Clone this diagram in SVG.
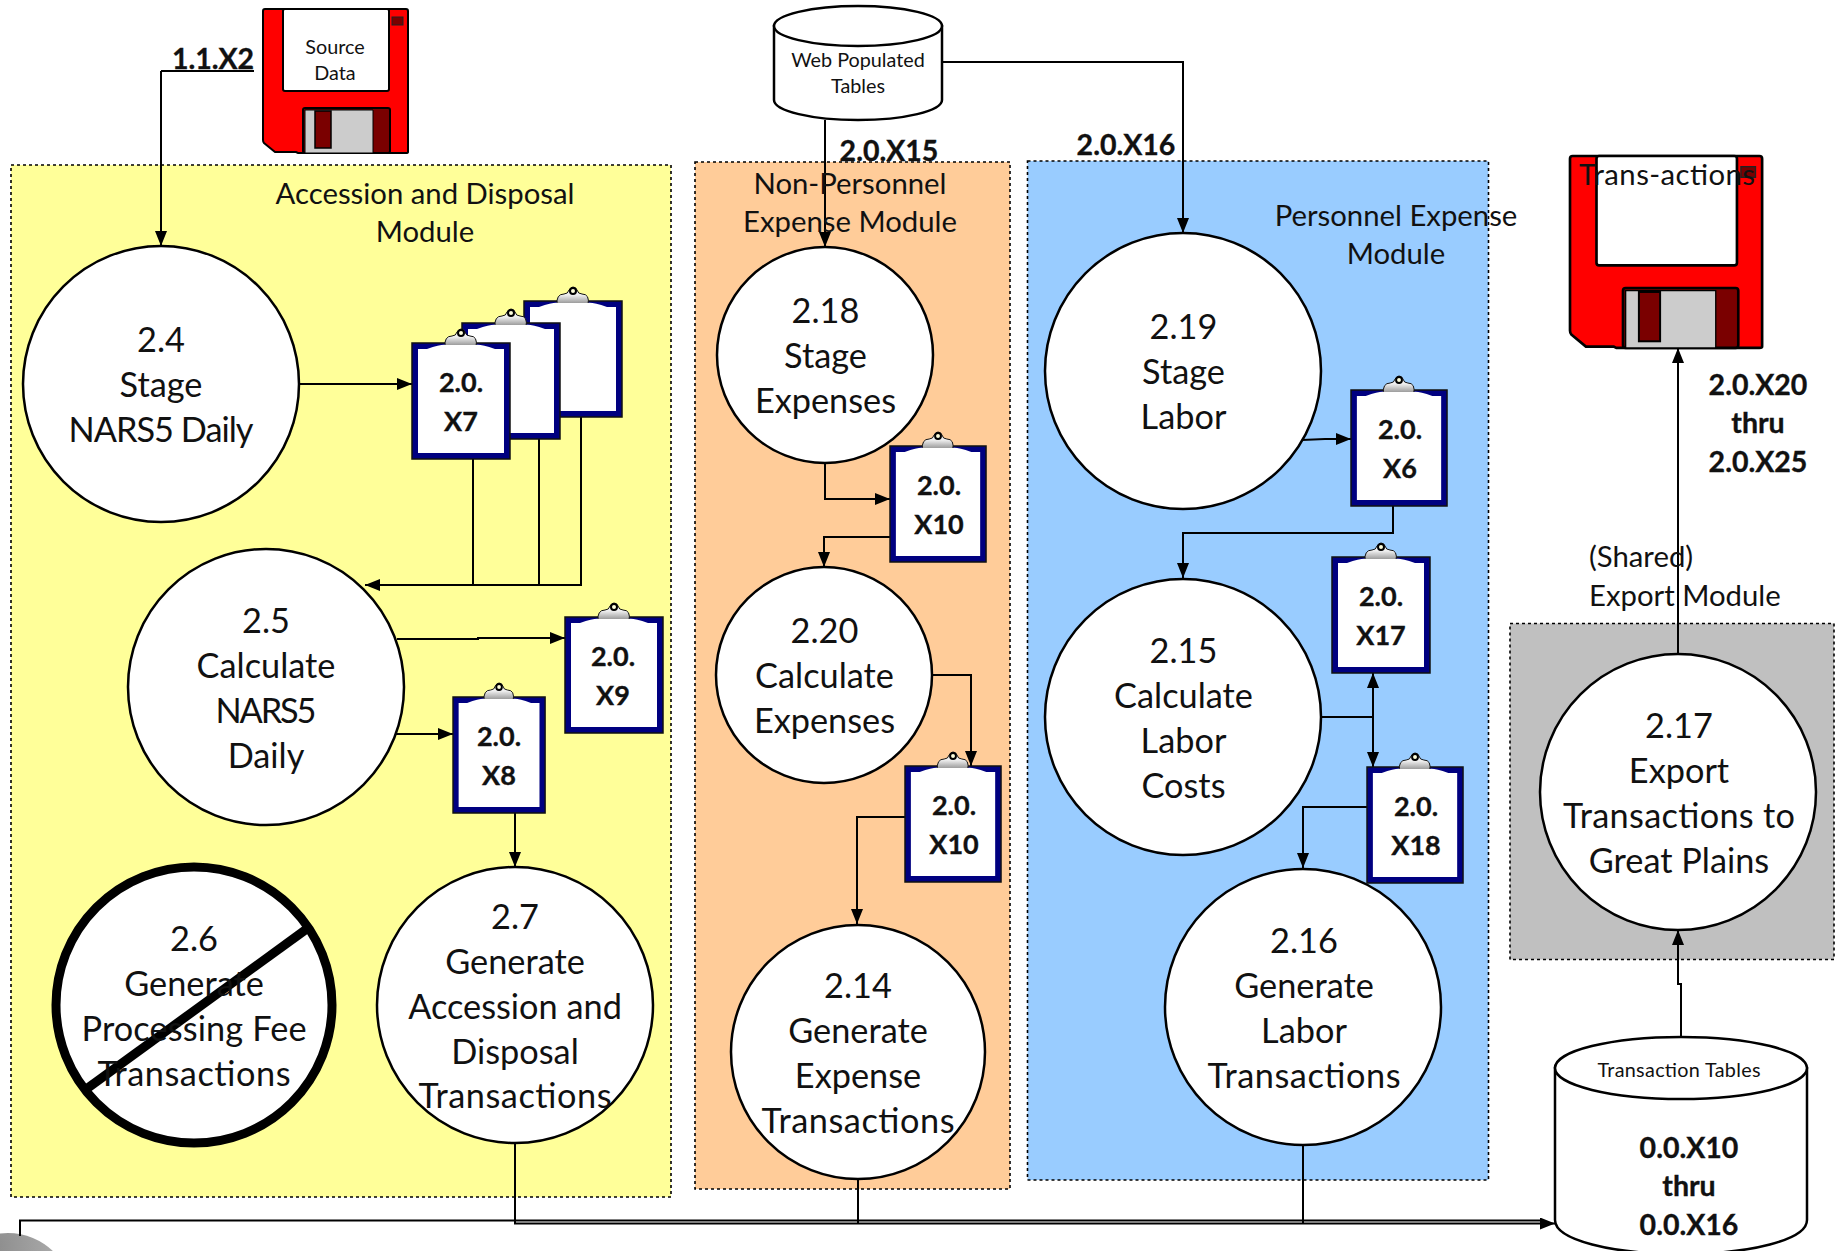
<svg xmlns="http://www.w3.org/2000/svg" xmlns:xlink="http://www.w3.org/1999/xlink" width="1841" height="1251" viewBox="0 0 1841 1251">
<style>
text{font-family:Lato,"Liberation Sans",sans-serif;fill:#111;text-anchor:middle}
.c{font-size:34.3px}.m{font-size:29.3px}.b{font-size:28.5px;font-weight:700;stroke:#111;stroke-width:.35}.q{font-size:27px;font-weight:700;stroke:#111;stroke-width:.35}.s{font-size:19.8px}
.n{fill:#fff;stroke:#000;stroke-width:2.5}
.p{stroke:#000;stroke-width:1.6;stroke-dasharray:3 3}
.l{fill:none;stroke:#000;stroke-width:2;marker-end:url(#a)}
.k{fill:none;stroke:#000;stroke-width:2}
</style>
<defs>
<marker id="a" markerUnits="userSpaceOnUse" markerWidth="16" markerHeight="12" refX="15" refY="6" orient="auto"><path d="M0 0L15 6L0 12Z" fill="#000"/></marker>
<marker id="as" markerUnits="userSpaceOnUse" markerWidth="16" markerHeight="12" refX="1" refY="6" orient="auto"><path d="M16 0L1 6L16 12Z" fill="#000"/></marker>
<linearGradient id="g" x1="0" y1="0" x2="0" y2="1"><stop offset="0" stop-color="#fff"/><stop offset=".45" stop-color="#eee"/><stop offset="1" stop-color="#888"/></linearGradient>
<radialGradient id="gb" cx="0.4" cy="0.1" r="0.9"><stop offset="0" stop-color="#8d8d8d"/><stop offset="1" stop-color="#c4c4c4"/></radialGradient>
<g id="clip">
<rect x="0" y="0" width="98" height="116" fill="#000080" stroke="#111" stroke-width="1.5"/>
<rect x="6" y="6" width="86" height="104" fill="#fff"/>
<path d="M33 4Q32-7 40-7Q44-7 45-11Q47-14 49-14Q52-14 53-11Q54-7 58-7Q66-7 64 4Z" fill="url(#g)" stroke="#111" stroke-width="1"/>
<path d="M15 6Q30 1 34 2H64Q68 1 83 6Z" fill="#fff"/>
<circle cx="49" cy="-10" r="3" fill="#ffd" stroke="#000" stroke-width="2"/>
</g>
<g id="floppy">
<path d="M2 0H143Q145 0 145 2V143Q145 144 143 144H35L33 143H12L1 134Q0 133 0 131V2Q0 0 2 0Z" fill="#f00" stroke="#000" stroke-width="2"/>
<rect x="20" y="0" width="106" height="82" rx="2" fill="#fff" stroke="#000" stroke-width="2"/>
<rect x="40" y="99" width="87" height="45" rx="2" fill="#7a0000" stroke="#000" stroke-width="2"/>
<path d="M42 101H110V144H42Z" fill="#ccc" stroke="#000" stroke-width="1"/>
<rect x="52" y="102" width="16" height="37" fill="#7a0000" stroke="#000" stroke-width="1.5"/>
<rect x="129" y="8" width="11" height="8" fill="#7a0000" stroke="#222" stroke-width="1"/>
</g>
</defs>
<rect width="1841" height="1251" fill="#fff"/>
<g id="panels">
<rect class="p" x="11" y="165" width="660" height="1032" fill="#ffff99"/>
<rect class="p" x="695" y="162" width="315" height="1027" fill="#ffcc99"/>
<rect class="p" x="1027.500" y="161" width="461" height="1019" fill="#99ccff"/>
<rect class="p" x="1510" y="623.500" width="324" height="336" fill="#c0c0c0"/>
</g>
<g id="bottom-shape"><circle cx="8" cy="1298" r="65" fill="url(#gb)"/></g>
<g id="connectors">
<path class="k" d="M254 71H161"/><path class="l" d="M161 71V246"/>
<path class="l" d="M299 384H412"/>
<path class="k" d="M473 459V585M539 439V585"/><path class="l" d="M581 417V585H365"/>
<path class="l" d="M397 639H478V638H565"/>
<path class="l" d="M395 734H453"/>
<path class="l" d="M515 812V867"/>
<path class="l" d="M825 120V247"/>
<path class="l" d="M942 62H1183V233"/>
<path class="l" d="M825 463V499H890"/>
<path class="l" d="M890 537H824V567"/>
<path class="l" d="M932 675H971V766"/>
<path class="l" d="M905 817H857V924"/>
<path class="l" d="M1302 440L1325 439H1351"/>
<path class="l" d="M1393 505V533H1183V578"/>
<path class="k" d="M1321 717H1373"/>
<path d="M1373 673V767" fill="none" stroke="#000" stroke-width="2" marker-start="url(#as)" marker-end="url(#a)"/>
<path class="l" d="M1367 807H1303V868"/>
<path class="l" d="M1678 654V348"/>
<path class="l" d="M1681 1037V984H1678V930"/>
<path class="k" d="M20 1236V1220.500H1540"/>
<path class="l" d="M515 1143V1223.500H1555"/>
<path class="k" d="M858 1178V1223M1303 1144V1223"/>
</g>
<g id="source-data"><use xlink:href="#floppy" href="#floppy" x="263" y="9"/><text class="s" x="335" y="54">Source</text><text class="s" x="335" y="80">Data</text></g>
<g id="web-tables">
<path class="n" d="M774 26V100C774 111 812 120 858 120S942 111 942 100V26Z" stroke-width="2"/>
<ellipse class="n" cx="858" cy="26" rx="84" ry="20" stroke-width="2"/>
<text class="s" x="858" y="67">Web Populated</text><text class="s" x="858" y="93">Tables</text>
</g>
<g id="transactions-disk"><use xlink:href="#floppy" href="#floppy" transform="translate(1570 156) scale(1.325 1.333)"/><text class="m" x="1667" y="185" textLength="176">Trans-actions</text></g>
<g id="transaction-tables">
<path class="n" d="M1555 1068V1220C1555 1240 1612 1254 1681 1254S1807 1240 1807 1220V1068Z"/>
<ellipse class="n" cx="1681" cy="1068" rx="126" ry="31"/>
<text class="s" x="1679" y="1077" textLength="163">Transaction Tables</text>
<text class="b" x="1689" y="1158">0.0.X10</text><text class="b" x="1689" y="1196">thru</text><text class="b" x="1689" y="1235">0.0.X16</text>
</g>
<g id="n2-4"><circle class="n" cx="161" cy="384" r="138"/><text class="c" x="161" y="352">2.4</text><text class="c" x="161" y="397">Stage</text><text class="c" x="161" y="442" textLength="185">NARS5 Daily</text></g>
<g id="n2-5"><circle class="n" cx="266" cy="687" r="138"/><text class="c" x="266" y="633">2.5</text><text class="c" x="266" y="678">Calculate</text><text class="c" x="266" y="723" textLength="101">NARS5</text><text class="c" x="266" y="768">Daily</text></g>
<g id="n2-6"><circle cx="194" cy="1005" r="138" fill="#fff" stroke="#000" stroke-width="9"/><path d="M85 1090L308 928" stroke="#000" stroke-width="9"/><text class="c" x="194" y="951">2.6</text><text class="c" x="194" y="996">Generate</text><text class="c" x="194" y="1041" textLength="225">Processing Fee</text><text class="c" x="194" y="1086" textLength="193">Transactions</text></g>
<g id="n2-7"><circle class="n" cx="515" cy="1005" r="138"/><text class="c" x="515" y="929">2.7</text><text class="c" x="515" y="974">Generate</text><text class="c" x="515" y="1019">Accession and</text><text class="c" x="515" y="1064">Disposal</text><text class="c" x="515" y="1108" textLength="193">Transactions</text></g>
<g id="n2-18"><circle class="n" cx="825" cy="355" r="108"/><text class="c" x="825.500" y="323">2.18</text><text class="c" x="825.500" y="368">Stage</text><text class="c" x="825.500" y="413">Expenses</text></g>
<g id="n2-20"><circle class="n" cx="824" cy="675" r="108"/><text class="c" x="824.500" y="643">2.20</text><text class="c" x="824.500" y="688">Calculate</text><text class="c" x="824.500" y="733">Expenses</text></g>
<g id="n2-14"><circle class="n" cx="858" cy="1052" r="127"/><text class="c" x="858" y="998">2.14</text><text class="c" x="858" y="1043">Generate</text><text class="c" x="858" y="1088">Expense</text><text class="c" x="858" y="1133" textLength="193">Transactions</text></g>
<g id="n2-19"><circle class="n" cx="1183" cy="371" r="138"/><text class="c" x="1183.500" y="339">2.19</text><text class="c" x="1183.500" y="384">Stage</text><text class="c" x="1183.500" y="429">Labor</text></g>
<g id="n2-15"><circle class="n" cx="1183" cy="717" r="138"/><text class="c" x="1183.500" y="663">2.15</text><text class="c" x="1183.500" y="708">Calculate</text><text class="c" x="1183.500" y="753">Labor</text><text class="c" x="1183.500" y="798">Costs</text></g>
<g id="n2-16"><circle class="n" cx="1303" cy="1007" r="138"/><text class="c" x="1304" y="953">2.16</text><text class="c" x="1304" y="998">Generate</text><text class="c" x="1304" y="1043">Labor</text><text class="c" x="1304" y="1088" textLength="193">Transactions</text></g>
<g id="n2-17"><circle class="n" cx="1678" cy="792" r="138"/><text class="c" x="1679" y="738">2.17</text><text class="c" x="1679" y="783">Export</text><text class="c" x="1679" y="828" textLength="232">Transactions to</text><text class="c" x="1679" y="873">Great Plains</text></g>
<g id="clip-x7-c"><use href="#clip" x="524" y="301"/></g>
<g id="clip-x7-b"><use href="#clip" x="462" y="323"/></g>
<g id="clip-x7"><use href="#clip" x="412" y="343"/><text class="q" x="461" y="392">2.0.</text><text class="q" x="461" y="431">X7</text></g>
<g id="clip-x9"><use href="#clip" x="565" y="617"/><text class="q" x="613" y="666">2.0.</text><text class="q" x="613" y="705">X9</text></g>
<g id="clip-x8"><use href="#clip" transform="translate(453 697) scale(.94 1)"/><text class="q" x="499" y="746">2.0.</text><text class="q" x="499" y="785">X8</text></g>
<g id="clip-x10a"><use href="#clip" transform="translate(890 446) scale(.98 1)"/><text class="q" x="939" y="495">2.0.</text><text class="q" x="939" y="534">X10</text></g>
<g id="clip-x10b"><use href="#clip" transform="translate(905 766) scale(.98 1)"/><text class="q" x="954" y="815">2.0.</text><text class="q" x="954" y="854">X10</text></g>
<g id="clip-x6"><use href="#clip" transform="translate(1351 390) scale(.98 1)"/><text class="q" x="1400" y="439">2.0.</text><text class="q" x="1400" y="478">X6</text></g>
<g id="clip-x17"><use href="#clip" x="1332" y="557"/><text class="q" x="1381" y="606">2.0.</text><text class="q" x="1381" y="645">X17</text></g>
<g id="clip-x18"><use href="#clip" transform="translate(1367 767) scale(.98 1)"/><text class="q" x="1416" y="816">2.0.</text><text class="q" x="1416" y="855">X18</text></g>
<g id="labels">
<text class="b" x="213" y="69">1.1.X2</text>
<text class="b" x="889" y="161">2.0.X15</text>
<text class="b" x="1126" y="155">2.0.X16</text>
<text class="b" x="1758" y="395">2.0.X20</text><text class="b" x="1758" y="433">thru</text><text class="b" x="1758" y="472">2.0.X25</text>
<text class="m" x="425" y="204">Accession and Disposal</text><text class="m" x="425" y="242">Module</text>
<text class="m" x="850" y="194">Non-Personnel</text><text class="m" x="850" y="232">Expense Module</text>
<text class="m" x="1396" y="226">Personnel Expense</text><text class="m" x="1396" y="264">Module</text>
<text class="m" x="1589" y="567" style="text-anchor:start">(Shared)</text><text class="m" x="1589" y="606" style="text-anchor:start">Export Module</text>
</g>
</svg>
